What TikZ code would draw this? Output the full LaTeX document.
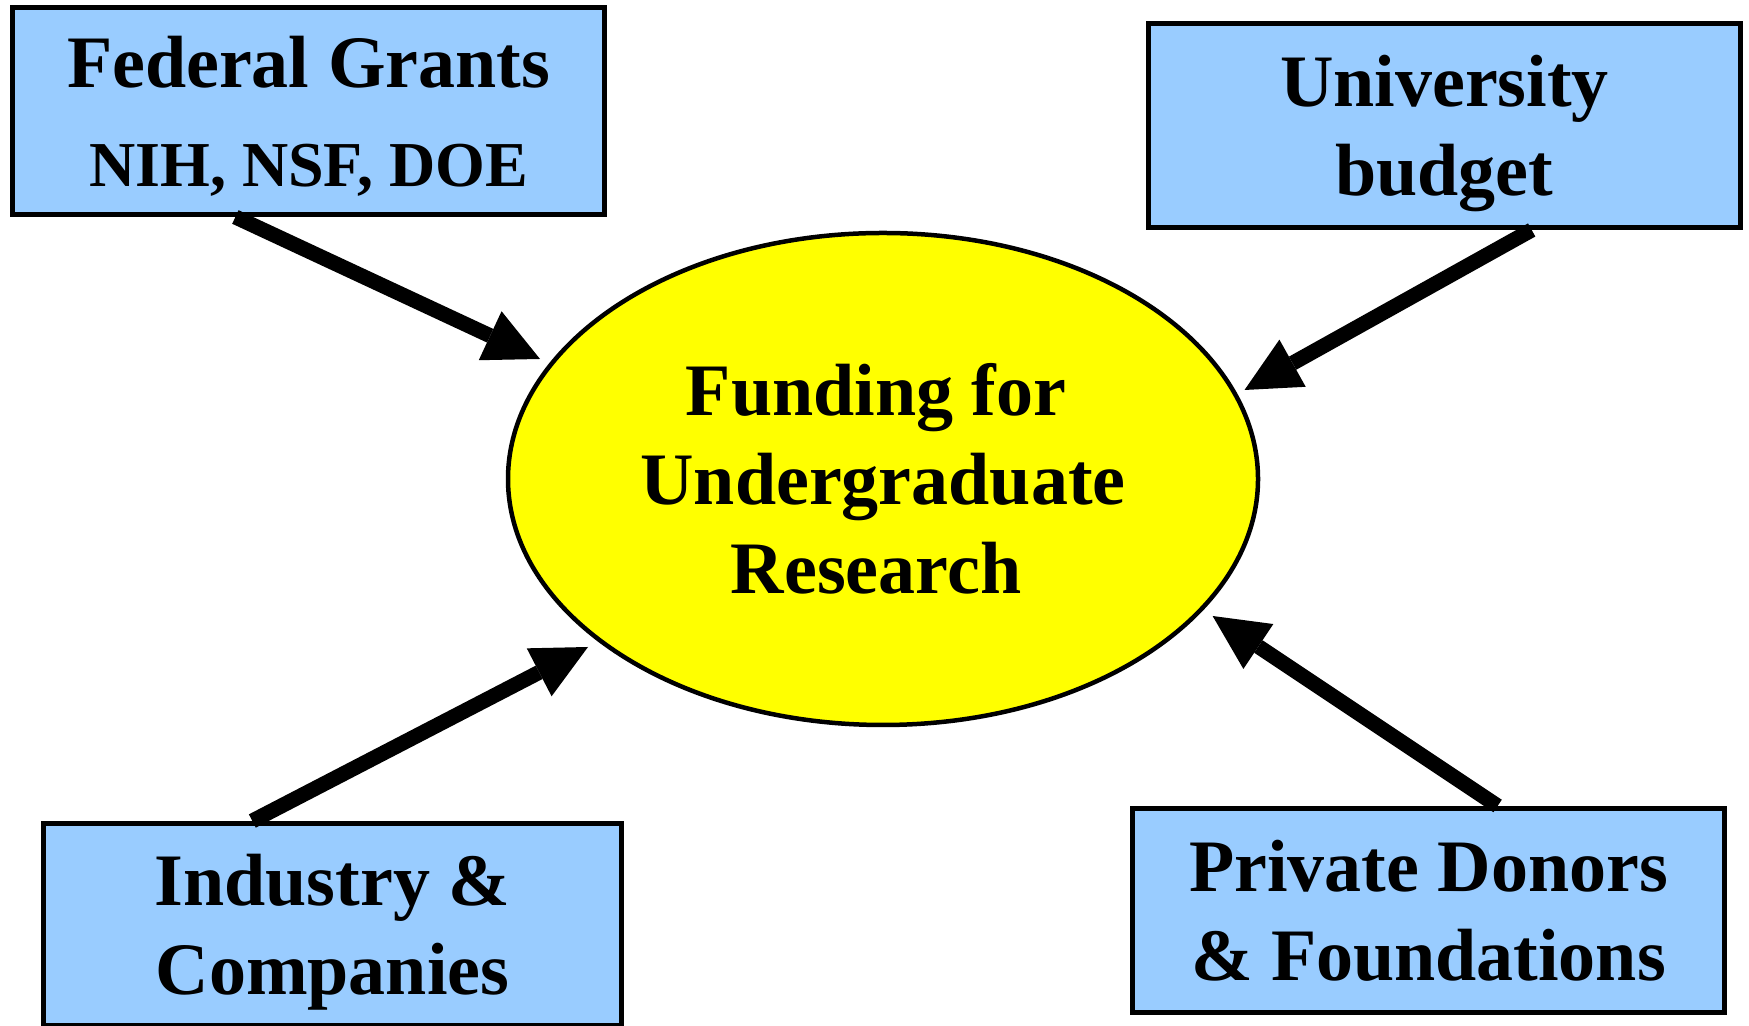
\documentclass[tikz,border=0pt]{standalone}
\usepackage{fontspec}
\setmainfont{Liberation Serif}
\usetikzlibrary{arrows.meta,shapes.geometric,calc}
\definecolor{boxblue}{RGB}{153,204,255}
\definecolor{hubyellow}{RGB}{255,255,0}
\begin{document}
\begin{tikzpicture}[x=0.5pt,y=0.5pt,
  srcbox/.style={draw=black, fill=boxblue, line width=2.5pt, inner sep=0pt,
    align=center, font=\bfseries\fontsize{37}{44.5}\selectfont,
    minimum width=296pt, minimum height=102pt, text depth=0pt},
  hub/.style={ellipse, draw=black, fill=hubyellow, line width=2.25pt, inner sep=0pt,
    minimum width=375pt, minimum height=246pt, align=center,
    font=\bfseries\fontsize{37}{44.5}\selectfont},
  feed/.style={line width=7.5pt, draw=black,
    -{Triangle[length=27.5pt,width=27pt,line width=0pt]}}
]
\useasboundingbox (0,0) rectangle (1749,1026);
\fill[white] (0,0) rectangle (1749,1026);

\node[hub] (fund) at (883,547)
  {Funding for\hspace*{7pt}\\Undergraduate\hspace*{7pt}\\Research\hspace*{7pt}};

\node[srcbox, minimum height=103.5pt, text depth=-10.5pt] (fed) at (308.5,915)
  {Federal Grants\\[5pt]{\fontsize{32}{38.4}\selectfont NIH, NSF, DOE}};
\node[srcbox] (uni) at (1444.5,900.5) {University\\budget};
\node[srcbox, minimum width=289pt, minimum height=101pt] (ind) at (332.5,101.5)
  {Industry \&\\Companies};
\node[srcbox] (don) at (1428.5,115.5) {Private Donors\\\& Foundations};

\draw[feed] ($(fed.south west)!0.3775!(fed.south east)$) -- ($(fund.center)+(-343,120)$);
\draw[feed] ($(uni.south west)!0.646!(uni.south east)$) -- ($(fund.center)+(361.5,89)$);
\draw[feed] ($(ind.north west)!0.3625!(ind.north east)$) -- ($(fund.center)+(-295,-168)$);
\draw[feed] ($(don.north west)!0.6157!(don.north east)$) -- ($(fund.center)+(329.6,-137)$);
\end{tikzpicture}
\end{document}
